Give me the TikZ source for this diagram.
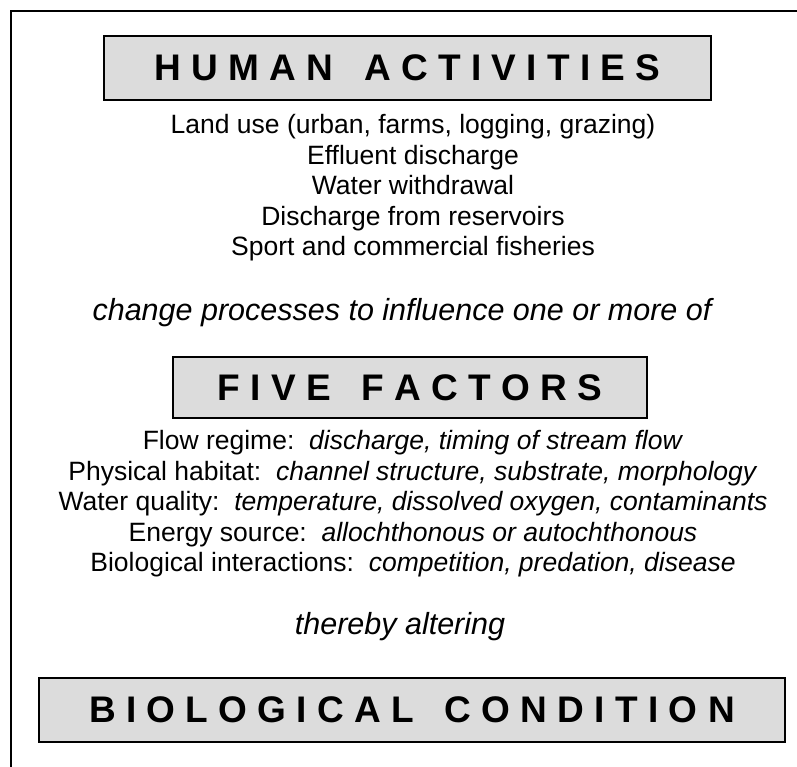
\documentclass[tikz,border=0pt]{standalone}
\usepackage{fontspec}
\setmainfont{Liberation Sans}
\definecolor{boxgray}{HTML}{DCDCDC}
\tikzset{
  titlebox/.style={draw=black, fill=boxgray, line width=1.8pt, inner sep=0pt,
    font=\fontsize{37}{44}\selectfont\bfseries},
  listtext/.style={align=center, inner sep=0pt, font=\fontsize{26.5}{30.5}\selectfont},
  linktext/.style={inner sep=0pt, font=\fontsize{30.5}{36}\selectfont\itshape},
  frameline/.style={line width=2pt}
}
\newcommand{\wg}{\ \ \ }
\begin{document}
\begin{tikzpicture}[x=1pt,y=-1pt]
\useasboundingbox (0,0) rectangle (797,767);
\coordinate (ftl) at (11,11);
\coordinate (ftr) at (797,11);
\coordinate (fbl) at (11,767);
\draw[frameline] (ftr) -- (ftl) -- (fbl);

\node[titlebox, minimum width=607pt, minimum height=64pt] (human) at (407.5,68)
  {H U M A N\wg A C T I V I T I E S};
\node[listtext] (humanlist) at (413,188)
  {Land use (urban, farms, logging, grazing)\\
   Effluent discharge\\
   Water withdrawal\\
   Discharge from reservoirs\\
   Sport and commercial fisheries};
\node[linktext] (change) at (402,313) {change processes to influence one or more of};

\node[titlebox, minimum width=474pt, minimum height=61pt] (five) at (410,387.5)
  {F I V E\wg F A C T O R S};
\node[listtext] (fivelist) at (413,504)
  {Flow regime:\ \ \textit{discharge, timing of stream flow}\\
   Physical habitat:\ \ \textit{channel structure, substrate, morphology}\\
   Water quality:\ \ \textit{temperature, dissolved oxygen, contaminants}\\
   Energy source:\ \ \textit{allochthonous or autochthonous}\\
   Biological interactions:\ \ \textit{competition, predation, disease}};
\node[linktext] (thereby) at (400,627) {thereby altering};

\node[titlebox, minimum width=746pt, minimum height=64pt] (bio) at (412,710)
  {B I O L O G I C A L\wg C O N D I T I O N};
\end{tikzpicture}
\end{document}
